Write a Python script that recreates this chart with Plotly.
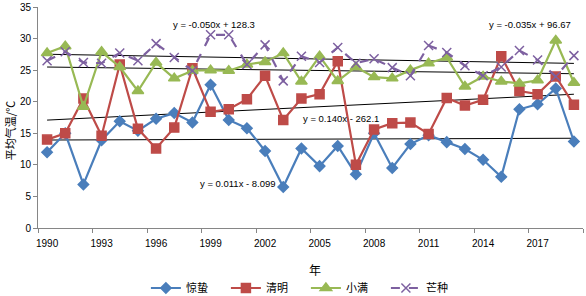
import numpy as np
import plotly.graph_objects as go

years = list(range(1990, 2020))
jingzhe = [12.0, 15.0, 6.9, 13.9, 16.9, 15.4, 17.3, 18.2, 16.7, 22.7,
           17.1, 15.8, 12.2, 6.5, 12.6, 9.8, 13.0, 8.5, 15.0, 9.5,
           13.3, 14.7, 13.6, 12.5, 10.8, 8.1, 18.8, 19.6, 22.1, 13.7]
qingming = [14.0, 15.0, 20.5, 14.6, 25.9, 15.7, 12.6, 15.9, 25.3, 18.4,
            18.8, 20.4, 24.1, 17.1, 20.5, 21.2, 26.4, 10.0, 15.6, 16.6,
            16.7, 14.9, 20.6, 19.4, 20.3, 27.2, 21.7, 21.2, 24.0, 19.5]
xiaoman = [27.7, 28.8, 19.2, 27.9, 25.5, 21.7, 26.2, 23.7, 24.9, 25.0,
           24.9, 25.9, 26.3, 27.7, 23.2, 27.2, 23.3, 25.5, 23.9, 23.7,
           25.0, 26.1, 27.0, 22.4, 24.0, 23.2, 22.9, 23.4, 29.7, 23.0]
mangzhong = [26.5, 27.9, 26.2, 26.1, 27.7, 26.5, 29.2, 27.0, 24.9, 30.6,
             30.6, 25.9, 29.0, 23.3, 27.2, 26.2, 28.6, 26.1, 26.8, 25.4,
             24.1, 28.9, 27.8, 25.7, 24.1, 25.5, 28.1, 26.6, 24.0, 27.3]
names = ["惊蛰", "清明", "小满", "芒种"]
colors = ["#4A7EBB", "#BE4B48", "#98B954", "#7D60A0"]
x_ticks = list(range(1990, 2018, 3))
x_ticklabels = [str(v) for v in x_ticks]
y_ticks = [0, 5, 10, 15, 20, 25, 30, 35]
eq_texts = ["y = 0.011x - 8.099", "y = 0.140x - 262.1", "y = -0.035x + 96.67", "y = -0.050x + 128.3"]
eq_pos = [(2000.5, 7.1), (2006.2, 17.3), (2016.6, 32.2), (1999.2, 32.3)]

cn = "Noto Sans CJK SC"
lat = "Liberation Sans"

series = [jingzhe, qingming, xiaoman, mangzhong]
markers = [dict(symbol="diamond", size=8), dict(symbol="square", size=9),
           dict(symbol="triangle-up", size=10), dict(symbol="x-thin-open", size=9)]
dashes = ["solid", "solid", "solid", "dash"]

fig = go.Figure()
yr = np.array(years, dtype=float)
for s in series:
    k, b = np.polyfit(yr, np.array(s), 1)
    fig.add_trace(go.Scatter(x=[years[0], years[-1]], y=[k * years[0] + b, k * years[-1] + b],
                             mode="lines", line=dict(color="black", width=1), showlegend=False,
                             hoverinfo="skip"))
for s, n, c, m, d in zip(series, names, colors, markers, dashes):
    mk = dict(m)
    mk["color"] = c
    mk["line"] = dict(color=c, width=1.5)
    fig.add_trace(go.Scatter(x=years, y=s, name=n, mode="lines+markers",
                             line=dict(color=c, width=2.2, dash=d), marker=mk))

for t, (ex, ey) in zip(eq_texts, eq_pos):
    fig.add_annotation(x=ex, y=ey, text=t, showarrow=False, font=dict(family=lat, size=9.5, color="black"))

fig.add_annotation(xref="paper", yref="paper", x=0.508, y=-0.19, text="年", showarrow=False,
                   font=dict(family=cn, size=12, color="black"), yanchor="middle")
fig.add_annotation(xref="paper", yref="paper", x=-0.051, y=0.439, text="平均气温/℃", showarrow=False,
                   textangle=-90, font=dict(family=cn, size=11, color="black"), xanchor="center", yanchor="middle")

fig.update_xaxes(range=[1989.5, 2019.5], tickmode="array", tickvals=x_ticks, ticktext=x_ticklabels,
                 ticks="", showgrid=False, zeroline=False, showline=True, linecolor="#868686", linewidth=1,
                 tickfont=dict(family=lat, size=10, color="black"), ticklabelstandoff=6,
                 minor=dict(tickmode="array", tickvals=[1989.5 + 3 * i for i in range(11)], ticks="outside",
                            ticklen=4, tickcolor="#868686", showgrid=False))
fig.update_yaxes(range=[0, 35], tickmode="array", tickvals=y_ticks, ticks="outside", ticklen=4,
                 tickcolor="#868686", showgrid=False, zeroline=False, showline=True, linecolor="#868686",
                 linewidth=1, tickfont=dict(family=lat, size=10, color="black"))

fig.update_layout(width=586, height=296, margin=dict(l=38, r=3, t=7, b=68, autoexpand=False),
                  paper_bgcolor="white", plot_bgcolor="white",
                  legend=dict(orientation="h", x=0.198, xanchor="left", y=-0.2715, yanchor="middle",
                              entrywidth=35, font=dict(family=cn, size=11, color="black"),
                              tracegroupgap=0))
fig.write_html("out.html", config={"displayModeBar": False},
               post_script="document.body.style.margin='0';document.body.style.padding='0';")
